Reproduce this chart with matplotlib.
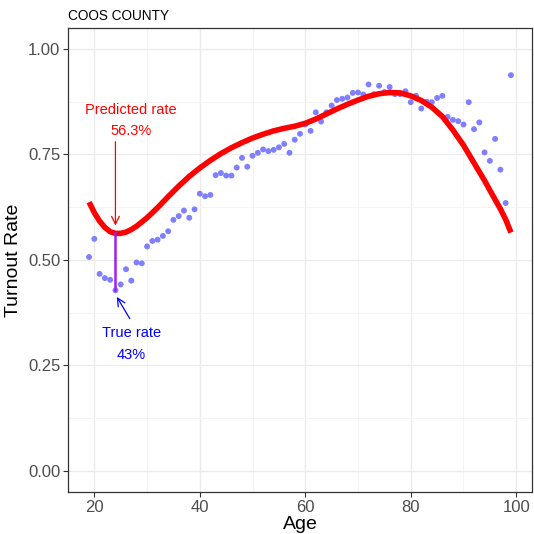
import matplotlib
matplotlib.use('Agg')
import matplotlib.pyplot as plt

plt.rcParams['font.family'] = ['Liberation Sans', 'DejaVu Sans']

# observed turnout by age
ages = list(range(19, 100))
turnout = [0.507, 0.550, 0.467, 0.457, 0.453, 0.428, 0.442, 0.478, 0.451, 0.494,
           0.492, 0.532, 0.545, 0.548, 0.557, 0.568, 0.595, 0.604, 0.617, 0.600,
           0.620, 0.657, 0.651, 0.654, 0.701, 0.706, 0.700, 0.700, 0.719, 0.742,
           0.721, 0.747, 0.754, 0.762, 0.758, 0.761, 0.767, 0.775, 0.754, 0.785,
           0.799, 0.821, 0.806, 0.850, 0.828, 0.850, 0.866, 0.879, 0.882, 0.885,
           0.896, 0.897, 0.892, 0.916, 0.893, 0.913, 0.898, 0.910, 0.893, 0.893,
           0.900, 0.874, 0.889, 0.859, 0.875, 0.874, 0.884, 0.889, 0.839, 0.832,
           0.829, 0.821, 0.874, 0.810, 0.826, 0.755, 0.735, 0.787, 0.714, 0.635,
           0.938]

# fitted (predicted) curve
fit_ages = [19, 20, 21, 22, 23, 24, 25, 26, 27, 28, 30, 32, 34, 36, 38, 40, 42, 44,
            46, 48, 50, 52, 54, 56, 58, 60, 62, 64, 66, 68, 70, 72, 74, 76, 78, 80,
            82, 84, 86, 88, 90, 92, 94, 96, 97, 98, 99]
fit_rate = [0.637, 0.612, 0.592, 0.577, 0.567, 0.563, 0.563, 0.566, 0.572, 0.580,
            0.600, 0.624, 0.650, 0.675, 0.698, 0.718, 0.736, 0.752, 0.766, 0.778,
            0.789, 0.798, 0.806, 0.812, 0.817, 0.824, 0.834, 0.846, 0.858, 0.869,
            0.879, 0.888, 0.894, 0.897, 0.896, 0.889, 0.878, 0.862, 0.840, 0.808,
            0.772, 0.730, 0.688, 0.643, 0.621, 0.596, 0.565]

focus_age = 24
pred_val = 0.563
true_val = 0.428

fig = plt.figure(figsize=(5.34, 5.34), dpi=100)
ax = fig.add_axes([0.1273, 0.0787, 0.869, 0.869])

ax.set_xlim(15, 103)
ax.set_ylim(-0.05, 1.05)
ax.set_xticks([20, 40, 60, 80, 100])
ax.set_xticks([30, 50, 70, 90], minor=True)
ax.set_yticks([0, 0.25, 0.5, 0.75, 1.0])
ax.set_yticklabels(['0.00', '0.25', '0.50', '0.75', '1.00'])
ax.set_yticks([0.125, 0.375, 0.625, 0.875], minor=True)
ax.grid(True, which='major', color='#EBEBEB', linewidth=1.0)
ax.grid(True, which='minor', color='#F3F3F3', linewidth=0.6)
ax.set_axisbelow(True)
ax.tick_params(which='minor', length=0)
ax.tick_params(which='major', colors='#333333', labelcolor='#4D4D4D',
               labelsize=12, length=3.5, width=0.8, pad=2)
for s in ax.spines.values():
    s.set_color('#333333')
    s.set_linewidth(0.9)

ax.scatter(ages, turnout, s=18, color='#7F7FFF', edgecolors='none', zorder=3)
ax.plot(fit_ages, fit_rate, color='#FF0000', linewidth=4, zorder=4,
        solid_capstyle='butt', solid_joinstyle='round')

# gap between predicted and true rate
ax.plot([focus_age, focus_age], [pred_val, true_val], color='#A020F0',
        linewidth=1.8, zorder=5)

ax.annotate('', xy=(focus_age, 0.575), xytext=(focus_age, 0.787),
            arrowprops=dict(arrowstyle='->', color='#FF0000', lw=0.9,
                            mutation_scale=14))
ax.text(27, 0.855, 'Predicted rate', color='#FF0000', fontsize=10.5,
        ha='center', va='center')
ax.text(27, 0.805, '56.3%', color='#FF0000', fontsize=10.5,
        ha='center', va='center')

ax.annotate('', xy=(focus_age, 0.418), xytext=(27, 0.355),
            arrowprops=dict(arrowstyle='->', color='#0000FF', lw=0.9,
                            mutation_scale=14))
ax.text(27, 0.326, 'True rate', color='#0000FF', fontsize=10.5,
        ha='center', va='center')
ax.text(27, 0.275, '43%', color='#0000FF', fontsize=10.5,
        ha='center', va='center')

ax.set_xlabel('Age', fontsize=14, labelpad=1)
ax.set_ylabel('Turnout Rate', fontsize=14, labelpad=4)
ax.set_title('COOS COUNTY', fontsize=9.8, loc='left', pad=6)

fig.savefig('out.png', dpi=100)
